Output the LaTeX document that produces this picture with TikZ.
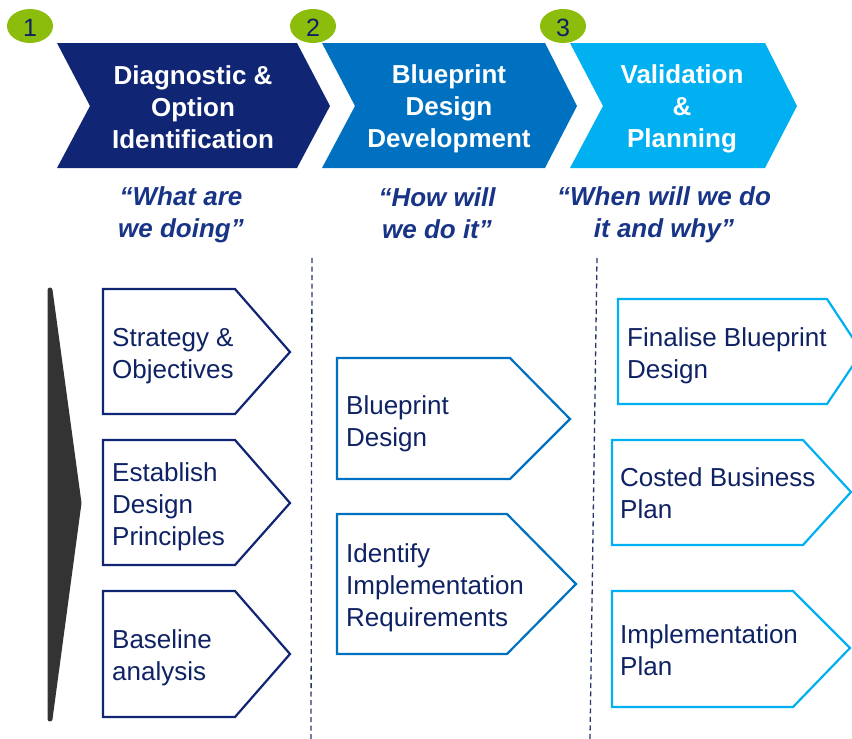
\documentclass[tikz,border=0pt]{standalone}
\usepackage{fontspec}
\setmainfont{Liberation Sans}
\definecolor{cnavy}{RGB}{16,37,115}
\definecolor{cmid}{RGB}{0,112,192}
\definecolor{clight}{RGB}{0,176,240}
\definecolor{cgreen}{RGB}{140,189,12}
\definecolor{ctext}{RGB}{14,34,100}
\definecolor{cquote}{RGB}{24,52,135}
\definecolor{ctri}{RGB}{51,51,51}
\definecolor{cdash}{RGB}{40,55,105}
\begin{document}
\begin{tikzpicture}[x=1pt,y=-1pt,
  chevtext/.style={text=white,font=\fontsize{26}{32}\selectfont\bfseries,align=center,inner sep=0pt},
  quotetext/.style={text=cquote,font=\fontsize{26}{32}\selectfont\bfseries\itshape,align=center,inner sep=0pt},
  boxtext/.style={text=ctext,font=\fontsize{26}{32}\selectfont,align=left,anchor=west,inner sep=0pt},
  badge/.style={fill=cgreen},
  badgenum/.style={text=ctext,font=\fontsize{25}{30}\selectfont,inner sep=0pt},
  stagebox/.style={draw=#1,line width=2.2pt,fill=white,line join=miter},
  dashline/.style={draw=cdash,line width=1.3pt,dash pattern=on 5pt off 3.5pt}
]
\useasboundingbox (0,0) rectangle (852,739);
\clip (0,0) rectangle (852,739);

% chevrons
\fill[cnavy] (57,43) -- (297,43) -- (330,106) -- (297,168) -- (57,168) -- (90,106) -- cycle;
\fill[cmid] (322,43) -- (545,43) -- (577,106) -- (545,168) -- (322,168) -- (355,106) -- cycle;
\fill[clight] (570,43) -- (765,43) -- (797,106) -- (765,168) -- (570,168) -- (603,106) -- cycle;

% badges
\fill[badge] (30,26) ellipse [x radius=23, y radius=17];
\fill[badge] (313,26) ellipse [x radius=23, y radius=17];
\fill[badge] (563,26) ellipse [x radius=23, y radius=17];
\node[badgenum] (n1) at (30,28) {1};
\node[badgenum] (n2) at (313,28) {2};
\node[badgenum] (n3) at (563,28) {3};

% chevron texts
\node[chevtext] (t1) at (193,107) {Diagnostic \&\\Option\\Identification};
\node[chevtext] (t2) at (449,109) {Blueprint\\Design\\Development};
\node[chevtext] (t3) at (682,109) {Validation\\\&\\Planning};

% quotes
\node[quotetext] (q1) at (181,215) {“What are\\we doing”};
\node[quotetext] (q2) at (437,213) {“How will\\we do it”};
\node[quotetext] (q3) at (664,215) {“When will we do\\it and why”};

% dashed separators
\draw[dashline] (312,258) -- (311,739);
\draw[dashline] (597,258) -- (590,739);

% left triangle
\filldraw[fill=ctri,draw=ctri,line width=5pt,line join=round] (50,290) -- (79,503) -- (50,719) -- cycle;

% left column boxes
\draw[stagebox=cnavy] (103,289) -- (235,289) -- (290,352) -- (235,414) -- (103,414) -- cycle;
\draw[stagebox=cnavy] (103,440) -- (235,440) -- (290,503) -- (235,565) -- (103,565) -- cycle;
\draw[stagebox=cnavy] (103,591) -- (235,591) -- (290,654) -- (235,717) -- (103,717) -- cycle;
\node[boxtext] (b1) at (112,356) {Strategy \&\\Objectives};
\node[boxtext] (b2) at (112,507) {Establish\\Design\\Principles};
\node[boxtext] (b3) at (112,658) {Baseline\\analysis};

% middle column boxes
\draw[stagebox=cmid] (337,358) -- (510,358) -- (570,419) -- (510,479) -- (337,479) -- cycle;
\draw[stagebox=cmid] (337,514) -- (507,514) -- (576,584) -- (507,654) -- (337,654) -- cycle;
\node[boxtext] (m1) at (346,424) {Blueprint\\Design};
\node[boxtext] (m2) at (346,588) {Identify\\Implementation\\Requirements};

% right column boxes
\draw[stagebox=clight] (618,299) -- (827,299) -- (862,352) -- (827,404) -- (618,404) -- cycle;
\draw[stagebox=clight] (612,440) -- (803,440) -- (851,492) -- (803,545) -- (612,545) -- cycle;
\draw[stagebox=clight] (612,591) -- (793,591) -- (850,648) -- (793,707) -- (612,707) -- cycle;
\node[boxtext] (r1) at (627,356) {Finalise Blueprint\\Design};
\node[boxtext] (r2) at (620,493) {Costed Business\\Plan};
\node[boxtext] (r3) at (620,650) {Implementation\\Plan};
\end{tikzpicture}
\end{document}
